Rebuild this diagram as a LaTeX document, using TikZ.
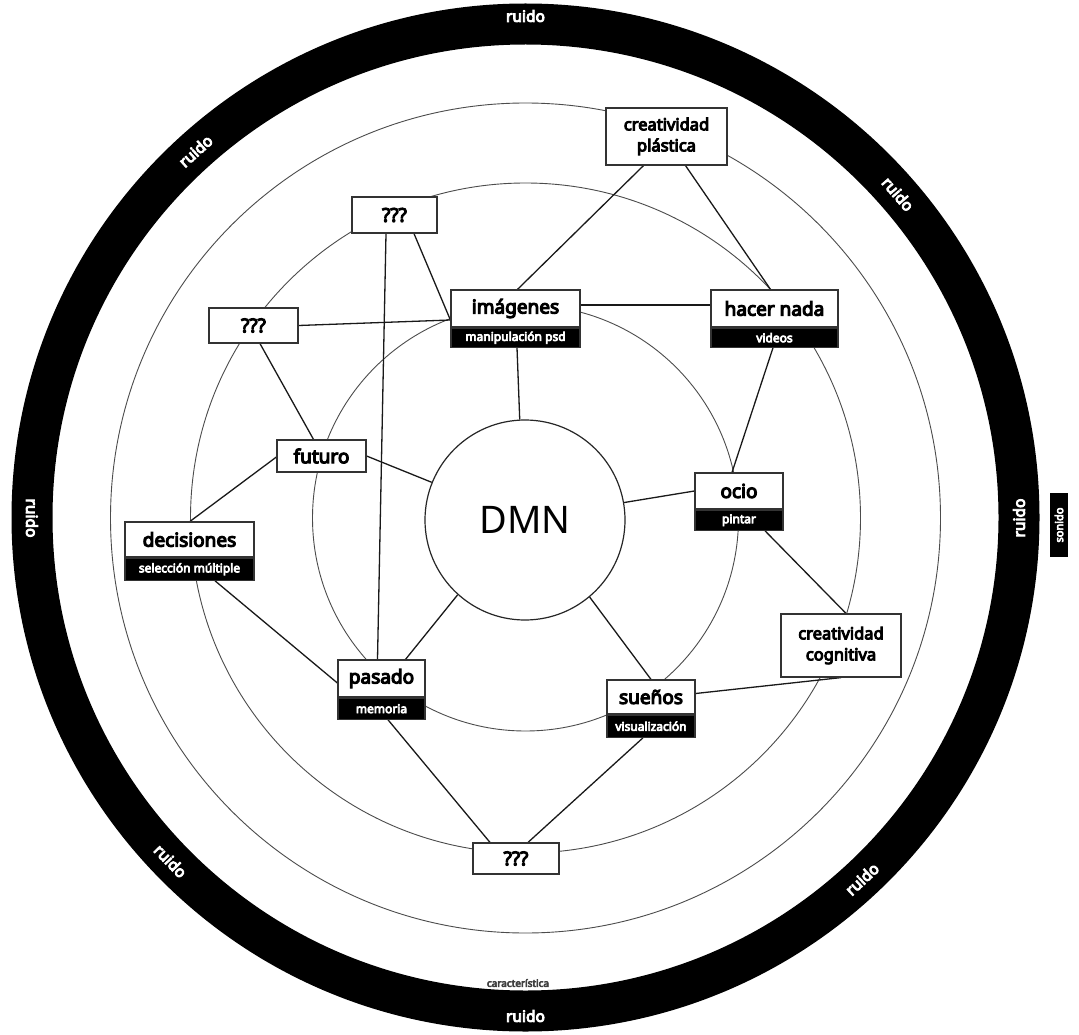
\documentclass[tikz,border=0pt]{standalone}
\usepackage{fontspec}
\setmainfont{Noto Sans}
\newfontfamily\labfont[FakeBold=6]{Noto Sans}
\usetikzlibrary{calc}
\pgfdeclarelayer{paper}
\pgfdeclarelayer{bg}
\pgfsetlayers{paper,bg,main}

\begin{document}
\begin{tikzpicture}[x=1pt,y=-1pt,
  band/.style={draw=black,line width=41pt},
  orbit/.style={draw=black!70,line width=0.9pt},
  link/.style={draw=black!90,line width=1.3pt},
  box/.style={draw=black!80,line width=1.2pt,fill=white,inner sep=0pt,
    font=\labfont\fontsize{19}{21}\selectfont},
  tag/.style={draw=black!80,line width=1.2pt,fill=black,text=white,inner sep=0pt,
    anchor=north,font=\labfont\fontsize{12}{14}\selectfont},
  noise/.style={text=white,font=\labfont\fontsize{15.5}{17}\selectfont},
]
\begin{pgfonlayer}{paper}
  \fill[white] (0,0) rectangle (1079,1035);
\end{pgfonlayer}
\useasboundingbox (0,0) rectangle (1079,1035);
\coordinate (ctr) at (525.5,518);

% outer noise band
\draw[band] (525.5,517.5) circle[radius=493.5pt];
\node[noise] (n1) at (525.5,16) {ruido};
\node[noise,rotate=42] (n2) at (195.5,151) {ruido};
\node[noise,rotate=-90] (n3) at (32,518) {ruido};
\node[noise,rotate=-46] (n4) at (170.5,861) {ruido};
\node[noise] (n5) at (525.5,1016) {ruido};
\node[noise,rotate=43] (n6) at (862,879) {ruido};
\node[noise,rotate=90] (n7) at (1019,518) {ruido};
\node[noise,rotate=-49] (n8) at (898,194) {ruido};
\node[fill=black,text=white,rotate=90,inner sep=0pt,minimum width=64pt,minimum height=18pt,
  font=\labfont\fontsize{11}{12}\selectfont] (son) at (1059,525) {sonido};
\node[text=black!75,font=\labfont\fontsize{10}{12}\selectfont] (car) at (518,983) {característica};

% central node
\node[circle,draw=black!85,line width=1.2pt,fill=white,minimum size=200pt,inner sep=0pt,
  font=\fontsize{38}{40}\selectfont] (dmn) at (525,520) {DMN};

% concept boxes
\node[box,minimum width=121pt,minimum height=57pt,align=center,
  font=\labfont\fontsize{16.5}{21}\selectfont] (cp) at (666.5,136.5) {creatividad\\plástica};
\node[box,minimum width=85pt,minimum height=36pt] (q1) at (394.5,215) {???};
\node[box,minimum width=129pt,minimum height=37pt] (img) at (515.5,308.5) {imágenes};
\node[tag,minimum width=129pt,minimum height=19pt] (imgtag) at (img.south) {manipulación psd};
\node[box,minimum width=127pt,minimum height=37pt] (hn) at (774.5,308.5) {hacer nada};
\node[tag,minimum width=127pt,minimum height=19pt] (hntag) at (hn.south) {videos};
\node[box,minimum width=89pt,minimum height=35pt] (q2) at (253.5,325.5) {???};
\node[box,minimum width=89pt,minimum height=32pt] (fut) at (321.5,456) {futuro};
\node[box,minimum width=88pt,minimum height=36pt] (ocio) at (739,491) {ocio};
\node[tag,minimum width=88pt,minimum height=20pt] (ociotag) at (ocio.south) {pintar};
\node[box,minimum width=129pt,minimum height=35pt] (dec) at (189.5,539.5) {decisiones};
\node[tag,minimum width=129pt,minimum height=22pt] (dectag) at (dec.south) {selección múltiple};
\node[box,minimum width=120pt,minimum height=63pt,align=center,
  font=\labfont\fontsize{16.5}{21}\selectfont] (cc) at (841,645.5) {creatividad\\cognitiva};
\node[box,minimum width=87pt,minimum height=37pt] (pas) at (381.5,678.5) {pasado};
\node[tag,minimum width=87pt,minimum height=21pt] (pastag) at (pas.south) {memoria};
\node[box,minimum width=88pt,minimum height=34pt] (sue) at (651,697) {sueños};
\node[tag,minimum width=88pt,minimum height=22pt] (suetag) at (sue.south) {visualización};
\node[box,minimum width=86pt,minimum height=31pt] (q3) at (516,858.5) {???};

\begin{pgfonlayer}{bg}
  % concentric orbits
  \draw[orbit] (ctr) circle[radius=213pt];
  \draw[orbit] (ctr) circle[radius=335pt];
  \draw[orbit] (ctr) circle[radius=415pt];
  % connections
  \draw[link] ([xshift=-23pt]cp.south) -- ([xshift=2pt]img.north);
  \draw[link] ([xshift=19pt]cp.south) -- ([xshift=-4pt]hn.north);
  \draw[link] ([xshift=19.5pt]q1.south) -- ([yshift=-11.5pt]img.west);
  \draw[link] ([xshift=-8.5pt]q1.south) -- ([xshift=-4pt]pas.north);
  \draw[link] (q2.east) -- ([yshift=-11.5pt]img.west);
  \draw[link] ([yshift=3.5pt]img.east) -- ([yshift=3.5pt]hn.west);
  \draw[link] ([xshift=1.5pt]imgtag.south) -- (dmn.93);
  \draw[link] ([xshift=-1.5pt]hntag.south) -- ([xshift=-7pt]ocio.north);
  \draw[link] ([xshift=6.5pt]q2.south) -- ([xshift=-8pt]fut.north);
  \draw[link] ([yshift=-1pt]fut.west) -- ([xshift=0.5pt]dec.north);
  \draw[link] (fut.east) -- (dmn.158);
  \draw[link] (dmn.10) -- (ocio.west);
  \draw[link] (dmn.228) -- ([xshift=24pt]pas.north);
  \draw[link] (dmn.-50) -- (sue.north);
  \draw[link] ([xshift=25.5pt]dectag.south) -- ([yshift=-4.5pt]pas.west);
  \draw[link] ([xshift=26pt]ociotag.south) -- ([xshift=5pt]cc.north);
  \draw[link] ([yshift=3.5pt]sue.east) -- (cc.south);
  \draw[link] ([xshift=6.5pt]pastag.south) -- ([xshift=-26pt]q3.north);
  \draw[link] ([xshift=-8pt]suetag.south) -- ([xshift=12pt]q3.north);
\end{pgfonlayer}
\end{tikzpicture}
\end{document}
